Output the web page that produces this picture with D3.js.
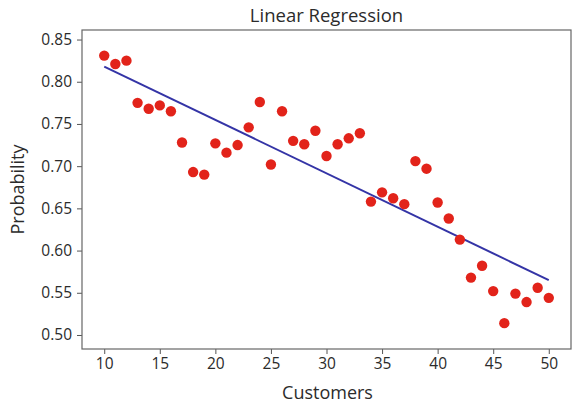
<!doctype html>
<html>
<head>
<meta charset="utf-8"/>
<title>Linear Regression</title>
<script src="https://d3js.org/d3.v7.min.js"></script>
<style>
  body { margin: 0; background: #fff; }
  text { font-family: "Open Sans", sans-serif; fill: #2b2b2b; }
</style>
</head>
<body>
<script>
// data
var customers = [10, 11, 12, 13, 14, 15, 16, 17, 18, 19, 20, 21, 22, 23, 24, 25, 26, 27, 28, 29, 30,
                 31, 32, 33, 34, 35, 36, 37, 38, 39, 40, 41, 42, 43, 44, 45, 46, 47, 48, 49, 50];
var probability = [0.831, 0.821, 0.825, 0.775, 0.768, 0.772, 0.765, 0.728, 0.693, 0.690, 0.727,
                   0.716, 0.725, 0.746, 0.776, 0.702, 0.765, 0.730, 0.726, 0.742, 0.712,
                   0.726, 0.733, 0.739, 0.658, 0.669, 0.662, 0.655, 0.706, 0.697, 0.657,
                   0.638, 0.613, 0.568, 0.582, 0.552, 0.514, 0.549, 0.539, 0.556, 0.544];
var fitX = [10, 50];
var fitY = [0.818, 0.565];
var xTicks = [10, 15, 20, 25, 30, 35, 40, 45, 50];
var yTicks = [0.50, 0.55, 0.60, 0.65, 0.70, 0.75, 0.80, 0.85];

var W = 572, H = 408;
var svg = d3.select("body").append("svg")
    .attr("width", W)
    .attr("height", H);

var x = d3.scaleLinear().domain([8, 52]).range([82, 571]);
var y = d3.scaleLinear().domain([0.4834, 0.8613]).range([349, 30]);

// axes
var xAxis = svg.append("g")
    .attr("transform", "translate(0,349)")
    .call(d3.axisBottom(x).tickValues(xTicks).tickSize(5).tickPadding(4).tickFormat(d3.format("d")));
var yAxis = svg.append("g")
    .attr("transform", "translate(82,0)")
    .call(d3.axisLeft(y).tickValues(yTicks).tickSize(5).tickPadding(5).tickFormat(d3.format(".2f")));

[xAxis, yAxis].forEach(function(g) {
  g.select(".domain").remove();
  g.selectAll(".tick line").attr("stroke", "#555");
  g.selectAll(".tick text").style("font-size", "15.5px").style("font-family", "Open Sans, sans-serif").attr("fill", "#2b2b2b");
});

// frame
svg.append("rect")
    .attr("x", 82).attr("y", 30)
    .attr("width", 571 - 82).attr("height", 349 - 30)
    .attr("fill", "none")
    .attr("stroke", "#666")
    .attr("stroke-width", 1.2);

// regression line
svg.append("path")
    .datum(d3.zip(fitX, fitY))
    .attr("fill", "none")
    .attr("stroke", "#3434a6")
    .attr("stroke-width", 2)
    .attr("d", d3.line().x(function(d) { return x(d[0]); }).y(function(d) { return y(d[1]); }));

// points
svg.selectAll("circle.pt")
    .data(d3.zip(customers, probability))
    .enter().append("circle")
    .attr("class", "pt")
    .attr("cx", function(d) { return x(d[0]); })
    .attr("cy", function(d) { return y(d[1]); })
    .attr("r", 5.2)
    .attr("fill", "#e2231a");

// labels
svg.append("text")
    .attr("x", (82 + 571) / 2).attr("y", 22)
    .attr("text-anchor", "middle")
    .style("font-size", "18.5px")
    .text("Linear Regression");

svg.append("text")
    .attr("x", (82 + 571) / 2 + 1).attr("y", 399)
    .attr("text-anchor", "middle")
    .style("font-size", "18px")
    .text("Customers");

svg.append("text")
    .attr("transform", "translate(24," + (30 + 349) / 2 + ") rotate(-90)")
    .attr("text-anchor", "middle")
    .style("font-size", "18px")
    .text("Probability");
</script>
</body>
</html>
